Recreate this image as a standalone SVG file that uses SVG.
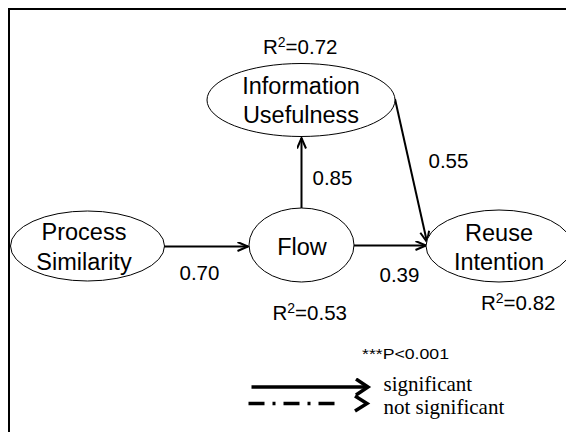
<svg xmlns="http://www.w3.org/2000/svg" width="566" height="432" viewBox="0 0 566 432">
<style>
.node{fill:#fff;stroke:#000;stroke-width:1}
.lbl{font-family:"Liberation Sans",Arial,sans-serif;font-size:23.5px;fill:#000;text-anchor:middle}
.num{font-family:"Liberation Sans",Arial,sans-serif;font-size:20.5px;fill:#000}
.conn{stroke:#000;stroke-width:2;fill:none}
.leg{font-family:"Liberation Serif","Times New Roman",serif;font-size:21px;fill:#000}
</style>
<defs>
<marker id="ah" markerUnits="userSpaceOnUse" markerWidth="16" markerHeight="14" refX="11" refY="5" orient="auto" viewBox="0 0 16 14">
<path d="M0.5,0.5 L11,5 L0.5,9.5" fill="none" stroke="#000" stroke-width="2"/>
</marker>
<marker id="ahl" markerUnits="userSpaceOnUse" markerWidth="20" markerHeight="22" refX="13" refY="9" orient="auto" viewBox="0 0 20 22">
<path d="M1,1 L13,9 L1,17" fill="none" stroke="#000" stroke-width="3.5"/>
</marker>
</defs>
<rect x="9" y="9" width="620" height="500" fill="#fff" stroke="#000" stroke-width="2"/>
<g id="connectors">
<line class="conn" x1="164" y1="246.5" x2="248" y2="246.5" marker-end="url(#ah)"/>
<line class="conn" x1="354" y1="245.5" x2="426" y2="245.5" marker-end="url(#ah)"/>
<line class="conn" x1="301.5" y1="208" x2="301.5" y2="138" marker-end="url(#ah)"/>
<line class="conn" x1="395" y1="99" x2="427" y2="242" marker-end="url(#ah)"/>
</g>
<g id="process-similarity">
<ellipse class="node" cx="87.5" cy="246" rx="77" ry="35"/>
<text class="lbl" x="84" y="240">Process</text>
<text class="lbl" x="84" y="270">Similarity</text>
</g>
<g id="flow">
<ellipse class="node" cx="301.5" cy="245" rx="52.5" ry="37"/>
<text class="lbl" x="302" y="255">Flow</text>
</g>
<g id="information-usefulness">
<ellipse class="node" cx="301" cy="100" rx="94" ry="36.5"/>
<text class="lbl" x="301" y="94">Information</text>
<text class="lbl" x="301" y="123">Usefulness</text>
</g>
<g id="reuse-intention">
<ellipse class="node" cx="499" cy="246" rx="73" ry="36"/>
<text class="lbl" x="499" y="241">Reuse</text>
<text class="lbl" x="499" y="270">Intention</text>
</g>
<g id="labels">
<text class="num" x="263" y="53.5">R<tspan dy="-7" font-size="14">2</tspan><tspan dy="7">=0.72</tspan></text>
<text class="num" x="272.5" y="319.5">R<tspan dy="-7" font-size="14">2</tspan><tspan dy="7">=0.53</tspan></text>
<text class="num" x="481" y="310">R<tspan dy="-7" font-size="14">2</tspan><tspan dy="7">=0.82</tspan></text>
<text class="num" x="179.5" y="280">0.70</text>
<text class="num" x="379.5" y="281.5">0.39</text>
<text class="num" x="312.5" y="185">0.85</text>
<text class="num" x="428.5" y="167.5">0.55</text>
</g>
<g id="legend">
<text x="362" y="358.5" font-family="'Liberation Sans',Arial,sans-serif" font-size="15" textLength="87" lengthAdjust="spacingAndGlyphs">***P&lt;0.001</text>
<line x1="251.5" y1="387" x2="368" y2="387" stroke="#000" stroke-width="3.5" marker-end="url(#ahl)"/>
<line x1="248.5" y1="403.5" x2="341" y2="403.5" stroke="#000" stroke-width="3.5" stroke-dasharray="16 8 3 8"/>
<polyline points="355,396 367,403.5 355,411" fill="none" stroke="#000" stroke-width="3.5" stroke-linejoin="miter"/>
<text class="leg" x="383.5" y="391">significant</text>
<text class="leg" x="383.5" y="414">not significant</text>
</g>
</svg>
